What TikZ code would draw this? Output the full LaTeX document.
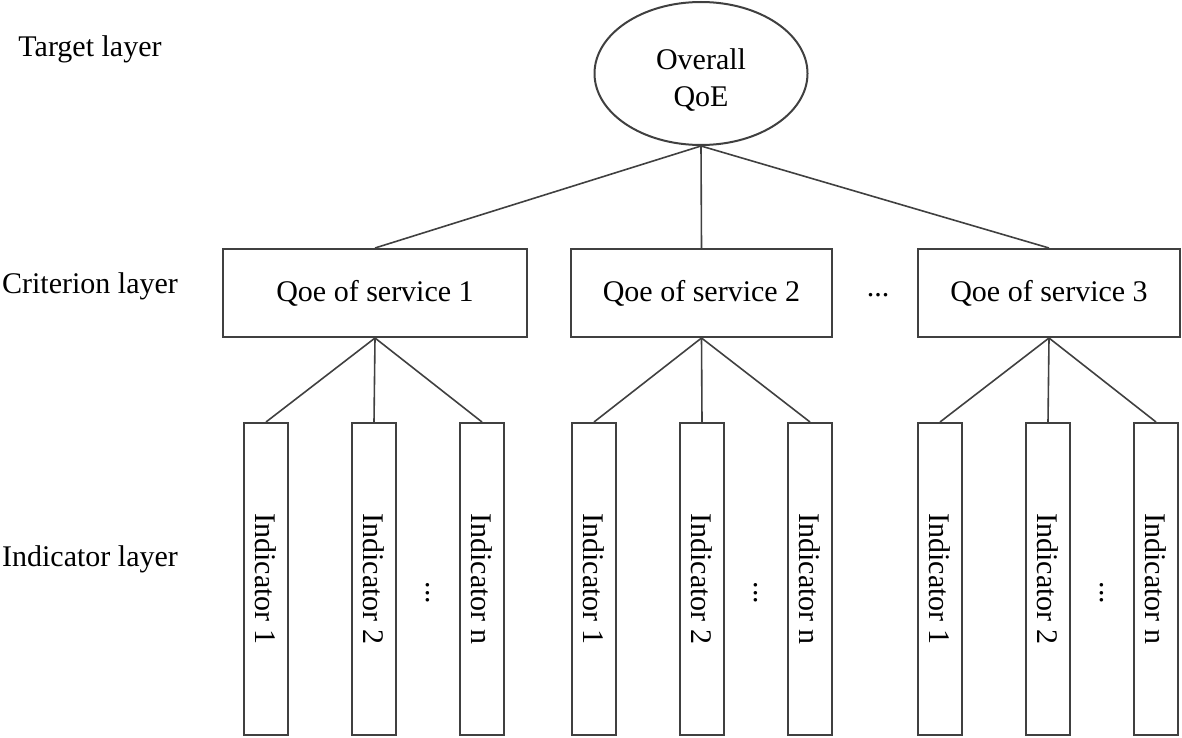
\documentclass[tikz,border=0pt]{standalone}
\usepackage{fontspec}
\setmainfont{Liberation Serif}
\usetikzlibrary{shapes.geometric, calc}

\tikzset{
    box/.style={draw=black!75, line width=1pt, inner sep=0pt, font=\fontsize{15}{18.5}\selectfont},
    goal/.style={box, ellipse, minimum width=106.5pt, minimum height=71.5pt, align=center},
    crit/.style={box, rectangle, minimum height=44pt},
    ind/.style={box, rectangle, minimum width=22pt, minimum height=156pt},
    layer/.style={inner sep=0pt, font=\fontsize{15}{18}\selectfont},
    link/.style={draw=black!75, line width=0.8pt}
}

\begin{document}
\begin{tikzpicture}[x=0.5pt, y=-0.5pt]
    \useasboundingbox (0,0) rectangle (1182,738);

    % --- Layer names ---
    \node[layer] (target) at (90,49) {Target layer};
    \node[layer] (criterion) at (90,286) {Criterion layer};
    \node[layer] (indicator) at (90,559) {Indicator layer};

    % --- Target ---
    \node[goal] (qoe) at (701,73.5) {\raisebox{-3.5pt}[\height][\depth]{\begin{tabular}{@{}c@{}}Overall\\QoE\end{tabular}}};

    % --- Criteria and their indicators ---
    \foreach \g/\cx/\w/\ix in {1/375/152/266, 2/701.5/130.5/594, 3/1049/131/940} {
        \node[crit, minimum width=\w pt] (c\g) at (\cx,293) {Qoe of service \g};
        \draw[link] (qoe.south) -- (c\g.north);
        \foreach \k/\dx in {1/0, 2/108, n/216} {
            \node[ind] (i\g\k) at (\ix+\dx,579) {\rotatebox{-90}{Indicator \k}};
            \draw[link] (c\g.south) -- (i\g\k.north);
        }
        \node[layer, rotate=-90] (dots\g) at ($(i\g2)!0.5!(i\g n)+(0,14)$) {...};
    }

    % --- Gap between criteria ---
    \node[layer] (cdots) at (878,295) {...};
\end{tikzpicture}
\end{document}
